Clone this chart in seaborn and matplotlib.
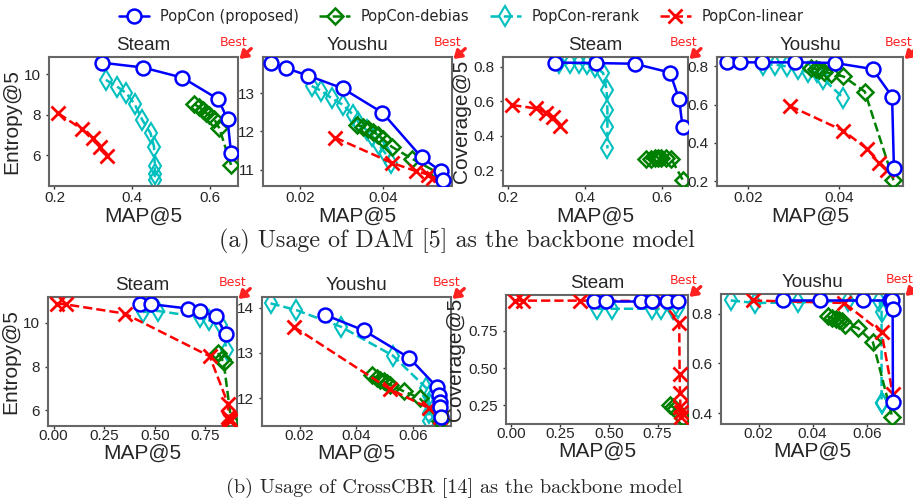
import numpy as np
import pandas as pd
import seaborn as sns
import matplotlib.pyplot as plt

# ---- (a) DAM backbone, Steam (same MAP values in both panels)
dam_steam_map_pop = [0.322, 0.428, 0.529, 0.621, 0.645, 0.654]
dam_steam_ent_pop = [10.57, 10.33, 9.83, 8.77, 7.78, 6.13]
dam_steam_cov_pop = [0.823, 0.820, 0.816, 0.765, 0.610, 0.448]
dam_steam_map_deb = [0.559, 0.572, 0.581, 0.589, 0.598, 0.610, 0.624, 0.654]
dam_steam_ent_deb = [8.53, 8.37, 8.24, 8.10, 7.98, 7.80, 7.33, 5.52]
dam_steam_cov_deb = [0.267, 0.268, 0.270, 0.270, 0.272, 0.270, 0.268, 0.145]
dam_steam_map_rer = [0.332, 0.361, 0.385, 0.406, 0.426, 0.447, 0.456, 0.458, 0.458, 0.458]
dam_steam_ent_rer = [9.72, 9.39, 9.06, 8.53, 7.74, 7.09, 6.42, 5.47, 5.08, 4.78]
dam_steam_cov_rer = [0.818, 0.818, 0.818, 0.815, 0.800, 0.762, 0.665, 0.548, 0.448, 0.326]
dam_steam_map_lin = [0.210, 0.271, 0.299, 0.316, 0.334]
dam_steam_ent_lin = [8.07, 7.28, 6.84, 6.40, 5.97]
dam_steam_cov_lin = [0.577, 0.558, 0.533, 0.506, 0.455]

# ---- (a) DAM backbone, Youshu, entropy panel
dam_you_map_pop = [0.0130, 0.0166, 0.0220, 0.0302, 0.0398, 0.0492, 0.0538, 0.0544]
dam_you_ent_pop = [13.80, 13.66, 13.46, 13.13, 12.49, 11.32, 10.96, 10.72]
dam_you_map_deb = [0.0336, 0.0352, 0.0364, 0.0376, 0.0388, 0.0400, 0.0420, 0.0468, 0.0532]
dam_you_ent_deb = [12.17, 12.12, 12.06, 11.99, 11.90, 11.79, 11.60, 11.29, 10.91]
dam_you_map_rer = [0.0228, 0.0250, 0.0276, 0.0304, 0.0328, 0.0340, 0.0360, 0.0374, 0.0390, 0.0404, 0.0418]
dam_you_ent_rer = [13.19, 13.07, 12.87, 12.69, 12.43, 12.25, 12.03, 11.88, 11.64, 11.44, 11.16]
dam_you_map_lin = [0.0284, 0.0420, 0.0478, 0.0508, 0.0520]
dam_you_ent_lin = [11.84, 11.18, 10.96, 10.87, 10.78]

# ---- (a) DAM backbone, Youshu, coverage panel
dam_youc_map_pop = [0.0153, 0.0182, 0.0229, 0.0303, 0.0390, 0.0473, 0.0516, 0.0520]
dam_youc_cov_pop = [0.821, 0.821, 0.821, 0.821, 0.818, 0.786, 0.642, 0.270]
dam_youc_map_deb = [0.0337, 0.0348, 0.0355, 0.0366, 0.0381, 0.0409, 0.0456, 0.0519]
dam_youc_cov_deb = [0.792, 0.786, 0.782, 0.773, 0.762, 0.747, 0.668, 0.204]
dam_youc_map_rer = [0.0233, 0.0259, 0.0284, 0.0310, 0.0332, 0.0350, 0.0365, 0.0409]
dam_youc_cov_rer = [0.809, 0.809, 0.800, 0.786, 0.768, 0.773, 0.734, 0.634]
dam_youc_map_lin = [0.0291, 0.0409, 0.0460, 0.0488, 0.0504]
dam_youc_cov_lin = [0.593, 0.463, 0.370, 0.295, 0.256]

# ---- (b) CrossCBR backbone, Steam
cbr_steam_map_pop = [0.425, 0.483, 0.664, 0.721, 0.800, 0.853]
cbr_steam_ent_pop = [10.86, 10.86, 10.66, 10.54, 10.32, 9.47]
cbr_steam_cov_pop = [0.955, 0.955, 0.955, 0.955, 0.955, 0.955]
cbr_steam_map_deb = [0.812, 0.830, 0.840, 0.878]
cbr_steam_ent_deb = [8.62, 8.35, 8.21, 5.46]
cbr_steam_cov_deb = [0.250, 0.235, 0.225, 0.160]
cbr_steam_map_rer = [0.441, 0.515, 0.721, 0.767, 0.828, 0.856]
cbr_steam_ent_rer = [10.50, 10.55, 10.27, 10.12, 9.89, 8.75]
cbr_steam_cov_rer = [0.900, 0.900, 0.900, 0.900, 0.900, 0.905]
cbr_steam_map_lin = [0.016, 0.060, 0.351, 0.771, 0.861, 0.863, 0.865, 0.867, 0.869, 0.871]
cbr_steam_ent_lin = [10.89, 10.85, 10.43, 8.47, 6.30, 5.70, 5.62, 5.57, 5.53, 5.50]
cbr_steam_cov_lin = [0.955, 0.955, 0.955, 0.952, 0.806, 0.459, 0.333, 0.239, 0.200, 0.170]

# ---- (b) CrossCBR backbone, Youshu
cbr_you_map_pop = [0.0291, 0.0426, 0.0587, 0.0685, 0.0690, 0.0694, 0.0696, 0.0697]
cbr_you_ent_pop = [13.84, 13.50, 12.89, 12.24, 12.07, 11.92, 11.80, 11.59]
cbr_you_cov_pop = [0.853, 0.853, 0.853, 0.853, 0.853, 0.853, 0.819, 0.447]
cbr_you_map_deb = [0.0455, 0.0473, 0.0485, 0.0496, 0.0508, 0.0520, 0.0567, 0.0623, 0.0694]
cbr_you_ent_deb = [12.50, 12.44, 12.40, 12.37, 12.33, 12.29, 12.15, 12.00, 11.50]
cbr_you_cov_deb = [0.789, 0.782, 0.778, 0.776, 0.769, 0.756, 0.743, 0.685, 0.387]
cbr_you_map_rer = [0.0097, 0.0188, 0.0346, 0.0529, 0.0647, 0.0655, 0.0655, 0.0655, 0.0655]
cbr_you_ent_rer = [14.10, 13.95, 13.58, 12.94, 12.22, 12.04, 11.89, 11.67, 11.50]
cbr_you_cov_rer = [0.853, 0.843, 0.845, 0.852, 0.852, 0.808, 0.441, 0.441, 0.441]
cbr_you_map_lin = [0.0179, 0.0517, 0.0655, 0.0696]
cbr_you_ent_lin = [13.58, 12.20, 11.78, 11.59]
cbr_you_cov_lin = [0.853, 0.843, 0.725, 0.478]

method_names = ['PopCon (proposed)', 'PopCon-debias', 'PopCon-rerank', 'PopCon-linear']
captions = ['(a) Usage of DAM [5] as the backbone model',
            '(b) Usage of CrossCBR [14] as the backbone model']

styles = {
    'PopCon (proposed)': dict(color='blue', marker='o', linestyle='-', markersize=10,
                              markerfacecolor='white', markeredgecolor='blue',
                              markeredgewidth=1.8, linewidth=1.8, zorder=5),
    'PopCon-debias': dict(color='green', marker='D', linestyle='--', markersize=8.5,
                          markerfacecolor='none', markeredgecolor='green',
                          markeredgewidth=1.8, linewidth=1.8, zorder=3),
    'PopCon-rerank': dict(color='c', marker='d', linestyle='--', markersize=10,
                          markerfacecolor='none', markeredgecolor='c',
                          markeredgewidth=1.5, linewidth=1.8, zorder=2),
    'PopCon-linear': dict(color='red', marker='x', linestyle='--', markersize=9.5,
                          markeredgecolor='red', markeredgewidth=2.0, linewidth=1.8, zorder=4),
}

sns.set_style('white', {'axes.edgecolor': '0.4', 'xtick.bottom': True, 'ytick.left': True})
plt.rcParams['font.family'] = ['Liberation Sans', 'DejaVu Sans']
plt.rcParams['axes.linewidth'] = 1.5
plt.rcParams['xtick.major.size'] = 2
plt.rcParams['ytick.major.size'] = 2.5

W, H = 913, 499
fig = plt.figure(figsize=(W / 100, H / 100), dpi=100)


def px_rect(l, t, r, b):
    return [l / W, 1 - b / H, (r - l) / W, (b - t) / H]


def panel(rect, data, title, xlim, ylim, xticks, yticks, ylabel=None, row=1):
    ax = fig.add_axes(px_rect(*rect))
    for name, (xs, ys) in zip(method_names, data):
        df = pd.DataFrame({'MAP@5': xs, 'val': ys})
        sns.lineplot(data=df, x='MAP@5', y='val', ax=ax, sort=False, estimator=None,
                     legend=False, label=name, **styles[name])
    ax.set_xlim(*xlim)
    ax.set_ylim(*ylim)
    ax.set_xticks(xticks)
    ax.set_yticks(yticks)
    ax.tick_params(labelsize=11, color='0.2', width=1)
    ax.tick_params(axis='x', pad=1.5 if row == 1 else 0.5)
    ax.set_xlabel('MAP@5', fontsize=15, labelpad=1.5 if row == 1 else 0)
    ax.set_ylabel(ylabel if ylabel else '', fontsize=15, labelpad=2)
    ax.set_title(title, fontsize=13.5, pad=5)
    ax.text(0.975, 1.11, 'Best', transform=ax.transAxes, color='#ff2020',
            fontsize=9, ha='center', va='center', family='DejaVu Sans')
    ax.annotate('', xy=(1.008, 0.985), xycoords='axes fraction',
                xytext=(1.07, 1.065), textcoords='axes fraction',
                arrowprops=dict(arrowstyle='-|>,head_length=0.45,head_width=0.3',
                                color='#ff2020', lw=2.4, shrinkA=0, shrinkB=0),
                annotation_clip=False)
    return ax


ax1 = panel((49, 57, 238, 186),
            [(dam_steam_map_pop, dam_steam_ent_pop), (dam_steam_map_deb, dam_steam_ent_deb),
             (dam_steam_map_rer, dam_steam_ent_rer), (dam_steam_map_lin, dam_steam_ent_lin)],
            'Steam', (0.186, 0.672), (4.48, 10.85), [0.2, 0.4, 0.6], [6, 8, 10], 'Entropy@5')
panel((263, 57, 452, 186),
      [(dam_you_map_pop, dam_you_ent_pop), (dam_you_map_deb, dam_you_ent_deb),
       (dam_you_map_rer, dam_you_ent_rer), (dam_you_map_lin, dam_you_ent_lin)],
      'Youshu', (0.0111, 0.0565), (10.57, 13.95), [0.02, 0.04], [11, 12, 13])
panel((503, 57, 688, 186),
      [(dam_steam_map_pop, dam_steam_cov_pop), (dam_steam_map_deb, dam_steam_cov_deb),
       (dam_steam_map_rer, dam_steam_cov_rer), (dam_steam_map_lin, dam_steam_cov_lin)],
      'Steam', (0.186, 0.668), (0.109, 0.855), [0.2, 0.4, 0.6], [0.2, 0.4, 0.6, 0.8], 'Coverage@5')
panel((717, 57, 903, 186),
      [(dam_youc_map_pop, dam_youc_cov_pop), (dam_youc_map_deb, dam_youc_cov_deb),
       (dam_youc_map_rer, dam_youc_cov_rer), (dam_youc_map_lin, dam_youc_cov_lin)],
      'Youshu', (0.0131, 0.0540), (0.174, 0.849), [0.02, 0.04], [0.2, 0.4, 0.6, 0.8])

panel((48, 297, 237, 426),
      [(cbr_steam_map_pop, cbr_steam_ent_pop), (cbr_steam_map_deb, cbr_steam_ent_deb),
       (cbr_steam_map_rer, cbr_steam_ent_rer), (cbr_steam_map_lin, cbr_steam_ent_lin)],
      'Steam', (-0.028, 0.906), (5.27, 11.19), [0.0, 0.25, 0.5, 0.75], [6, 8, 10], 'Entropy@5',
      row=2)
panel((262, 297, 451, 426),
      [(cbr_you_map_pop, cbr_you_ent_pop), (cbr_you_map_deb, cbr_you_ent_deb),
       (cbr_you_map_rer, cbr_you_ent_rer), (cbr_you_map_lin, cbr_you_ent_lin)],
      'Youshu', (0.0067, 0.0734), (11.38, 14.24), [0.02, 0.04, 0.06], [12, 13, 14], row=2)
panel((506, 295, 688, 424),
      [(cbr_steam_map_pop, cbr_steam_cov_pop), (cbr_steam_map_deb, cbr_steam_cov_deb),
       (cbr_steam_map_rer, cbr_steam_cov_rer), (cbr_steam_map_lin, cbr_steam_cov_lin)],
      'Steam', (-0.028, 0.906), (0.122, 0.993), [0.0, 0.25, 0.5, 0.75], [0.25, 0.5, 0.75], 'Coverage@5',
      row=2)
panel((721, 294, 904, 424),
      [(cbr_you_map_pop, cbr_you_cov_pop), (cbr_you_map_deb, cbr_you_cov_deb),
       (cbr_you_map_rer, cbr_you_cov_rer), (cbr_you_map_lin, cbr_you_cov_lin)],
      'Youshu', (0.0061, 0.0738), (0.357, 0.879), [0.02, 0.04, 0.06], [0.4, 0.6, 0.8], row=2)

lines = {ln.get_label(): ln for ln in ax1.get_lines()}
fig.legend([lines[n] for n in method_names], method_names, loc='center',
           bbox_to_anchor=(0.505, 0.966), ncol=4, frameon=False,
           prop={'family': 'DejaVu Sans', 'size': 10.5},
           handlelength=2.1, handletextpad=0.75, columnspacing=1.4)

fig.text(0.5, 1 - 241 / H, captions[0], ha='center', va='center', family='cmr10', fontsize=17.3)
fig.text(0.498, 1 - 488 / H, captions[1], ha='center', va='center', family='cmr10', fontsize=14.6)

fig.savefig('out.png', dpi=100)
